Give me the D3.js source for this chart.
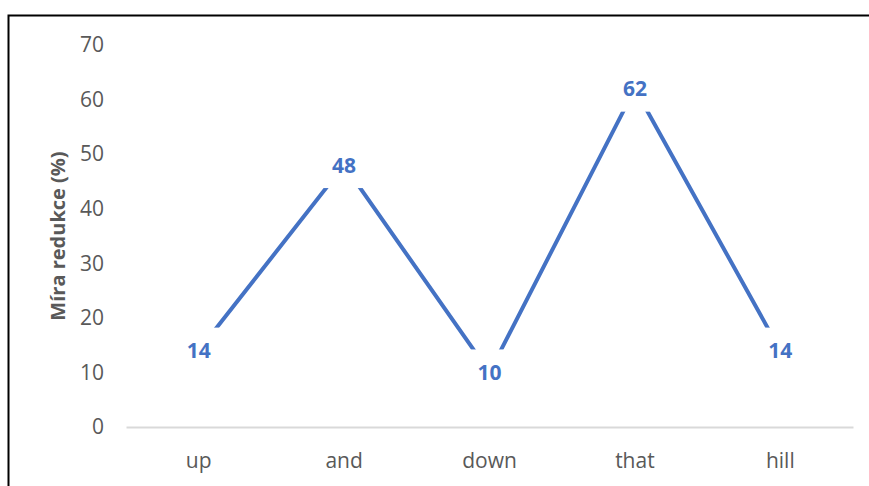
<!DOCTYPE html>
<html>
<head>
<meta charset="utf-8">
<script src="https://cdn.jsdelivr.net/npm/d3@7"></script>
<style>
  html, body { margin: 0; padding: 0; background: #fff; }
  svg { display: block; }
</style>
</head>
<body>
<svg id="chart" width="869" height="486"></svg>
<script>
// Words and their reduction rate (%)
const categories = ["up", "and", "down", "that", "hill"];
const values = [14, 48, 10, 62, 14];
const yTicks = [0, 10, 20, 30, 40, 50, 60, 70];
const yTitle = "Míra redukce (%)";

const W = 869, H = 486;
const svg = d3.select("#chart");
const font = "'Open Sans', 'Noto Sans', sans-serif";

// Frame around the chart area
svg.append("path")
  .attr("d", "M8.5,486 L8.5,15.5 L869,15.5")
  .attr("fill", "none")
  .attr("stroke", "#000")
  .attr("stroke-width", 2);

const x = d3.scaleBand().domain(categories).range([126, 853]);
const y = d3.scaleLinear().domain([0, 70]).range([427, 45]);

// Y tick labels (no gridlines)
const yAxis = svg.append("g")
  .attr("transform", "translate(104,0)")
  .call(d3.axisLeft(y).tickValues(yTicks).tickSize(0).tickPadding(0));
yAxis.select(".domain").remove();
yAxis.selectAll("text")
  .attr("fill", "#595959")
  .style("font-family", font)
  .style("font-size", "21px");

// X axis baseline and category labels
const xAxis = svg.append("g")
  .attr("transform", `translate(0,${y(0)})`)
  .call(d3.axisBottom(x).tickSize(0).tickPadding(26));
xAxis.select(".domain")
  .attr("stroke", "#d9d9d9")
  .attr("stroke-width", 2);
xAxis.selectAll("text")
  .attr("fill", "#595959")
  .style("font-family", font)
  .style("font-size", "21px");

// Y axis title
svg.append("text")
  .attr("transform", `translate(65,${(y(0) + y(70)) / 2}) rotate(-90)`)
  .attr("text-anchor", "middle")
  .attr("fill", "#595959")
  .style("font-family", font)
  .style("font-size", "20px")
  .style("font-weight", "bold")
  .text(yTitle);

// Series line
const pts = categories.map((c, i) => ({ c, v: values[i] }));
const line = d3.line()
  .x(d => x(d.c) + x.bandwidth() / 2)
  .y(d => y(d.v));
svg.append("path")
  .datum(pts)
  .attr("d", line)
  .attr("fill", "none")
  .attr("stroke", "#4472C4")
  .attr("stroke-width", 4)
  .attr("stroke-linejoin", "miter");

// Data labels centred on points, with a white box knocking out the line
const lab = svg.append("g").selectAll("g")
  .data(pts).join("g")
  .attr("transform", d => `translate(${x(d.c) + x.bandwidth() / 2},${y(d.v)})`);
lab.append("rect")
  .attr("x", -23).attr("y", -23)
  .attr("width", 46).attr("height", 46)
  .attr("fill", "#fff");
lab.append("text")
  .attr("text-anchor", "middle")
  .attr("dy", "0.36em")
  .attr("fill", "#4472C4")
  .style("font-family", font)
  .style("font-size", "21px")
  .style("font-weight", "bold")
  .text(d => d.v);
</script>
</body>
</html>
